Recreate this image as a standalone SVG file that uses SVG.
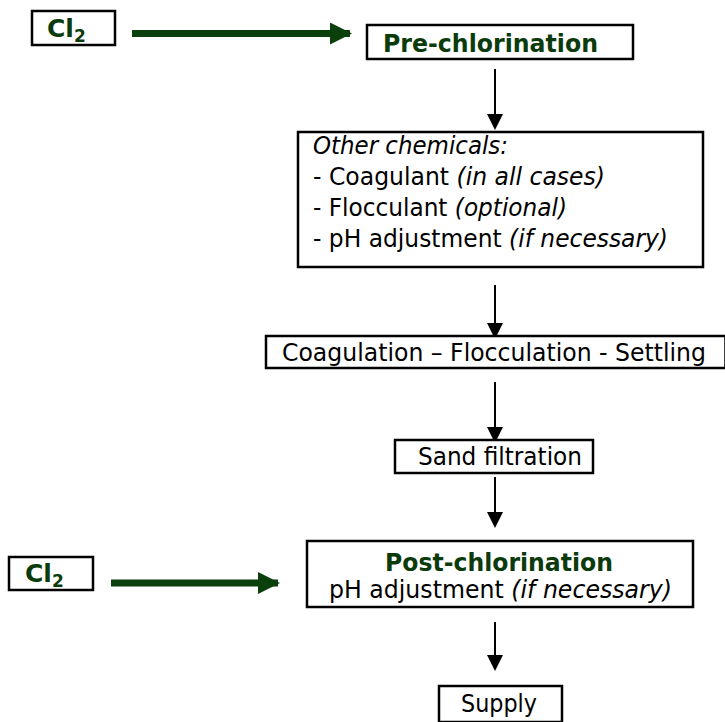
<svg xmlns="http://www.w3.org/2000/svg" width="725" height="722" viewBox="0 0 725 722">
<style>
  .box { fill: #ffffff; stroke: #000000; stroke-width: 2.5; }
  .t { font-family: "DejaVu Sans", Verdana, sans-serif; font-size: 25px; fill: #000000; }
  .g { font-family: "DejaVu Sans", Verdana, sans-serif; font-size: 25px; font-weight: bold; fill: #0b3b0b; }
  .i { font-style: italic; }
  .blk { stroke: #000000; stroke-width: 2; fill: none; }
  .grn { stroke: #0b3f0b; stroke-width: 7; fill: none; }
</style>
<defs>
  <marker id="ab" markerUnits="userSpaceOnUse" markerWidth="16" markerHeight="16" refX="13" refY="8" orient="auto">
    <path d="M0,0 L16,8 L0,16 z" fill="#000000"/>
  </marker>
  <marker id="ag" markerUnits="userSpaceOnUse" markerWidth="22" markerHeight="22" refX="20" refY="11" orient="auto">
    <path d="M0,0 L22,11 L0,22 z" fill="#0b3f0b"/>
  </marker>
</defs>

<g id="connectors">
  <line class="grn" x1="132" y1="33.5" x2="350" y2="33.5" marker-end="url(#ag)"/>
  <line class="grn" x1="111" y1="583" x2="278" y2="583" marker-end="url(#ag)"/>
  <line class="blk" x1="495" y1="69" x2="495" y2="127" marker-end="url(#ab)"/>
  <line class="blk" x1="495" y1="285" x2="495" y2="336" marker-end="url(#ab)"/>
  <line class="blk" x1="495" y1="382" x2="495" y2="440" marker-end="url(#ab)"/>
  <line class="blk" x1="495" y1="477" x2="495" y2="525" marker-end="url(#ab)"/>
  <line class="blk" x1="495" y1="622" x2="495" y2="668" marker-end="url(#ab)"/>
</g>

<g id="cl2-top">
  <rect class="box" x="32" y="11" width="83" height="34"/>
  <text class="g" x="47" y="37" font-size="26">Cl<tspan font-size="17" dy="5">2</tspan></text>
</g>

<g id="pre-chlorination">
  <rect class="box" x="367" y="25" width="266" height="34"/>
  <text class="g" x="383" y="52" textLength="215" lengthAdjust="spacingAndGlyphs">Pre-chlorination</text>
</g>

<g id="other-chemicals">
  <rect class="box" x="298" y="132" width="405" height="135"/>
  <text class="t i" x="313" y="154" textLength="195" lengthAdjust="spacingAndGlyphs">Other chemicals:</text>
  <text class="t" x="313" y="185" textLength="292" lengthAdjust="spacingAndGlyphs">- Coagulant <tspan class="i">(in all cases)</tspan></text>
  <text class="t" x="313" y="216" textLength="254" lengthAdjust="spacingAndGlyphs">- Flocculant <tspan class="i">(optional)</tspan></text>
  <text class="t" x="313" y="247" textLength="355" lengthAdjust="spacingAndGlyphs">- pH adjustment <tspan class="i">(if necessary)</tspan></text>
</g>

<g id="coagulation">
  <rect class="box" x="266" y="336" width="459.5" height="32"/>
  <text class="t" x="282" y="361" textLength="424" lengthAdjust="spacingAndGlyphs">Coagulation – Flocculation - Settling</text>
</g>

<g id="sand-filtration">
  <rect class="box" x="395" y="440" width="198" height="33"/>
  <text class="t" x="418" y="465" textLength="164" lengthAdjust="spacingAndGlyphs">Sand filtration</text>
</g>

<g id="cl2-bottom">
  <rect class="box" x="9" y="557" width="84" height="33"/>
  <text class="g" x="25" y="582" font-size="26">Cl<tspan font-size="17" dy="5">2</tspan></text>
</g>

<g id="post-chlorination">
  <rect class="box" x="307" y="541" width="386" height="66"/>
  <text class="g" x="385" y="571" textLength="228" lengthAdjust="spacingAndGlyphs">Post-chlorination</text>
  <text class="t" x="329" y="598" textLength="343" lengthAdjust="spacingAndGlyphs">pH adjustment <tspan class="i">(if necessary)</tspan></text>
</g>

<g id="supply">
  <rect class="box" x="439" y="686" width="123" height="36"/>
  <text class="t" x="461" y="712" textLength="76" lengthAdjust="spacingAndGlyphs">Supply</text>
</g>
</svg>
